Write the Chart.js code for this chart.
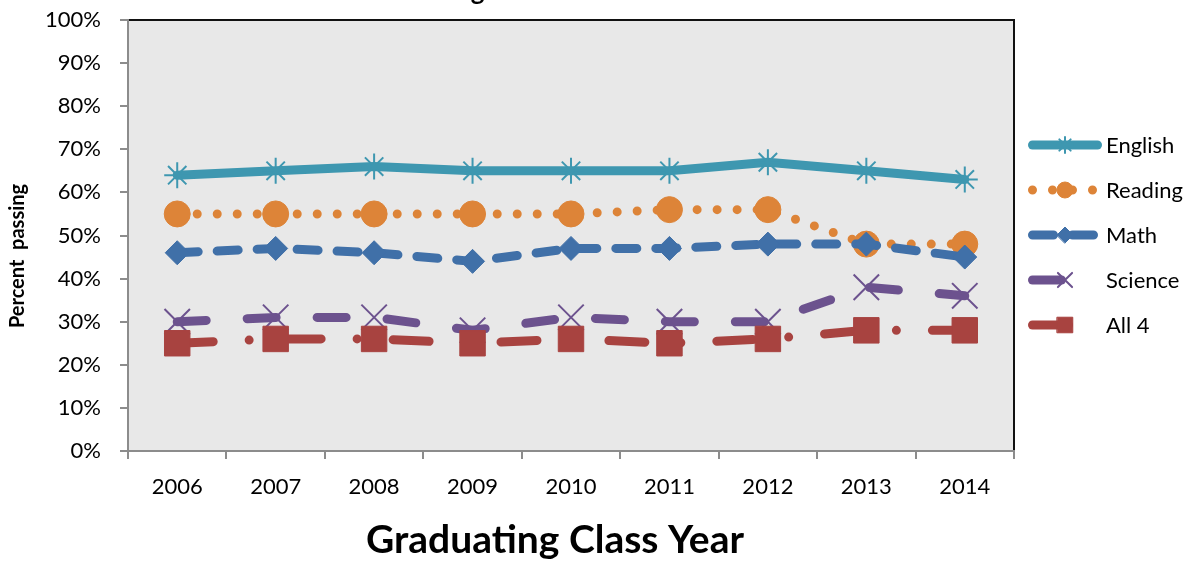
<!DOCTYPE html>
<html lang="en">
<head>
<meta charset="UTF-8">
<title>Percent Passing by Graduating Class</title>
<style>
  html, body { margin: 0; padding: 0; background: #fff; }
  #wrap { width: 1197px; height: 562px; }
</style>
</head>
<body>
<div id="wrap"><canvas id="chart" width="1197" height="562"></canvas></div>
<script src="https://cdn.jsdelivr.net/npm/chart.js"></script>
<script>
// data
const years = ['2006', '2007', '2008', '2009', '2010', '2011', '2012', '2013', '2014'];
const english = [64, 65, 66, 65, 65, 65, 67, 65, 63];
const reading = [55, 55, 55, 55, 55, 56, 56, 48, 48];
const math    = [46, 47, 46, 44, 47, 47, 48, 48, 45];
const science = [30, 31, 31, 28, 31, 30, 30, 38, 36];
const all4    = [25, 26, 26, 25, 26, 25, 26, 28, 28];
const yTicks  = [0, 10, 20, 30, 40, 50, 60, 70, 80, 90, 100];

const FONT = 'Lato, "Open Sans", sans-serif';
const AXIS_GRAY = '#8c8c8c';

function series(label, data, color, dash, style, radius, legendRadius, order) {
    const hollow = style === 'star' || style === 'crossRot';
    return {
        label: label,
        data: data,
        borderColor: color,
        backgroundColor: color,
        borderWidth: 9,
        borderDash: dash,
        borderCapStyle: 'round',
        borderJoinStyle: 'round',
        tension: 0,
        pointStyle: style,
        pointRadius: radius,
        pointHoverRadius: radius,
        pointBackgroundColor: color,
        pointBorderColor: color,
        pointBorderWidth: hollow ? 2 : 1,
        legendRadius: legendRadius,
        order: order
    };
}

// plot background + top/right frame
const plotFrame = {
    id: 'plotFrame',
    beforeDraw(chart) {
        const { ctx, chartArea: a } = chart;
        ctx.save();
        ctx.fillStyle = '#e8e8e8';
        ctx.fillRect(a.left, a.top, a.right - a.left, a.bottom - a.top);
        ctx.strokeStyle = '#111';
        ctx.lineWidth = 2;
        ctx.beginPath();
        ctx.moveTo(a.left, a.top);
        ctx.lineTo(a.right, a.top);
        ctx.lineTo(a.right, a.bottom);
        ctx.stroke();
        ctx.restore();
    }
};

// titles and the line-sample legend on the right
const labelsAndLegend = {
    id: 'labelsAndLegend',
    afterDraw(chart) {
        const ctx = chart.ctx;
        ctx.save();
        ctx.fillStyle = '#000';
        ctx.textAlign = 'center';

        // main title, cropped off at the top like the reference
        ctx.font = 'bold 26px ' + FONT;
        ctx.textBaseline = 'alphabetic';
        ctx.fillText('Meeting Standard on All Tests', 560, 0);

        // x axis title
        ctx.font = 'bold 39px ' + FONT;
        ctx.textBaseline = 'middle';
        ctx.fillText('Graduating Class Year', 555, 540);

        // y axis title
        ctx.save();
        ctx.translate(18, 256);
        ctx.rotate(-Math.PI / 2);
        ctx.font = 'bold 20px ' + FONT;
        ctx.fillText('Percent  passing', 0, 0);
        ctx.restore();

        // legend
        const rowY = [145, 190, 235, 280, 325];
        chart.data.datasets.forEach((ds, i) => {
            const y = rowY[i];
            ctx.save();
            ctx.strokeStyle = ds.borderColor;
            ctx.lineWidth = ds.borderWidth;
            ctx.lineCap = 'round';
            ctx.setLineDash(ds.borderDash || []);
            ctx.beginPath();
            ctx.moveTo(1032.5, y);
            ctx.lineTo(1097.5, y);
            ctx.stroke();
            ctx.setLineDash([]);
            ctx.fillStyle = ds.pointBackgroundColor;
            ctx.strokeStyle = ds.pointBorderColor;
            ctx.lineWidth = ds.pointBorderWidth;
            Chart.helpers.drawPoint(ctx, {
                pointStyle: ds.pointStyle,
                radius: ds.legendRadius,
                borderWidth: ds.pointBorderWidth,
                rotation: 0
            }, 1065, y);
            ctx.restore();

            ctx.fillStyle = '#000';
            ctx.font = '22px ' + FONT;
            ctx.textAlign = 'left';
            ctx.textBaseline = 'middle';
            ctx.fillText(ds.label, 1106, y + 1);
        });
        ctx.restore();
    }
};

const ctx = document.getElementById('chart').getContext('2d');
const chart = new Chart(ctx, {
    type: 'line',
    data: {
        labels: years,
        datasets: [
            series('English', english, '#3e97b0', [],           'star',     13, 8,  5),
            series('Reading', reading, '#dd8438', [0, 20],      'circle',   13, 8,  4),
            series('Math',    math,    '#4070a8', [21, 19],     'rectRot',  12, 8,  3),
            series('Science', science, '#6c528e', [29, 41],     'crossRot', 18, 10, 2),
            series('All 4',   all4,    '#a84340', [36, 36, 0, 36], 'rect',  18, 11, 1)
        ]
    },
    options: {
        responsive: false,
        animation: false,
        devicePixelRatio: 1,
        layout: { padding: { top: 17, right: 183, left: 0, bottom: 0 } },
        plugins: {
            legend: { display: false },
            title: { display: false },
            tooltip: { enabled: false }
        },
        scales: {
            x: {
                offset: true,
                afterFit(scale) {
                    scale.height = 111;
                    scale.paddingLeft = 0;
                    scale.paddingRight = 0;
                },
                grid: {
                    offset: true,
                    drawOnChartArea: false,
                    tickLength: 8,
                    tickColor: AXIS_GRAY,
                    lineWidth: 2
                },
                border: { color: AXIS_GRAY, width: 2 },
                ticks: {
                    color: '#000',
                    padding: 15,
                    maxRotation: 0,
                    font: { family: FONT, size: 22 }
                }
            },
            y: {
                min: 0,
                max: 100,
                afterFit(scale) {
                    scale.width = 128;
                    scale.paddingTop = 0;
                    scale.paddingBottom = 0;
                },
                afterBuildTicks(scale) { scale.ticks = yTicks.map(v => ({ value: v })); },
                grid: {
                    drawOnChartArea: false,
                    tickLength: 8,
                    tickColor: AXIS_GRAY,
                    lineWidth: 2
                },
                border: { color: AXIS_GRAY, width: 2 },
                ticks: {
                    color: '#000',
                    padding: 19,
                    font: { family: FONT, size: 22 },
                    callback: v => v + '%'
                }
            }
        }
    },
    plugins: [plotFrame, labelsAndLegend]
});
</script>
</body>
</html>
